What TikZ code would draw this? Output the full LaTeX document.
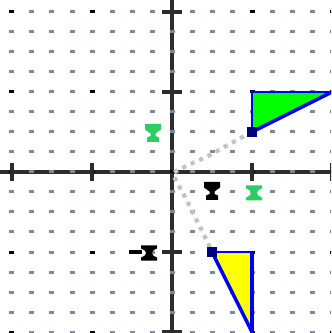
\documentclass[tikz,border=0pt]{standalone}
\usetikzlibrary{calc}
\definecolor{mgreen}{RGB}{46,204,100}
\definecolor{dotc}{RGB}{122,138,155}
\definecolor{axisc}{RGB}{45,45,45}
\definecolor{navyc}{RGB}{0,0,128}
\definecolor{gfill}{RGB}{0,255,0}
\definecolor{bline}{RGB}{0,0,255}
\definecolor{yfill}{RGB}{255,255,0}
\definecolor{curvec}{RGB}{195,195,195}
\tikzset{
  axisline/.style={draw=axisc,line width=3.2pt},
  tickmark/.style={draw=axisc,line width=3.2pt},
  tri/.style={draw=bline,line width=1.6pt,line join=miter},
  hyp/.style={draw=bline,line width=2.4pt},
  trace/.style={draw=curvec,line width=3pt,dash pattern=on 3pt off 3.6pt},
  cupmark/.pic={\fill[#1,scale=0.05] (-8,9) -- (8,9) -- (8,3.5) -- (2.5,-0.5) -- (2.5,-3) -- (6,-4.5) -- (6,-9) -- (-6,-9) -- (-6,-4.5) -- (-2.5,-3) -- (-2.5,-0.5) -- (-8,3.5) -- cycle;},
  hourmark/.pic={\fill[#1,scale=0.05] (-8,7.5) -- (8,7.5) -- (8,4.5) .. controls (4,3) and (3,1.5) .. (3,0) .. controls (3,-1.5) and (4,-3) .. (8,-4.5) -- (8,-7.5) -- (-8,-7.5) -- (-8,-4.5) .. controls (-4,-3) and (-3,-1.5) .. (-3,0) .. controls (-3,1.5) and (-4,3) .. (-8,4.5) -- cycle;}
}
\begin{document}
\begin{tikzpicture}[x=0.5cm,y=0.5cm]
\useasboundingbox (-8.6,-8.05) rectangle (7.95,8.6);
\fill[white] (-8.6,-8.05) rectangle (7.95,8.6);
\clip (-8.6,-8.05) rectangle (7.95,8.6);
% axes
\draw[axisline] (-8.6,0) -- (7.95,0);
\draw[axisline] (0,-8.05) -- (0,8.6);
% grid dots
\foreach \i in {-8,...,8} {
  \foreach \j in {-8,...,8} {
    \pgfmathtruncatemacro{\mi}{mod(abs(\i),4)}
    \pgfmathtruncatemacro{\mj}{mod(abs(\j),4)}
    \ifnum\mi=0 \ifnum\mj=0
      \fill[black] (\i-0.125,\j-0.075) rectangle (\i+0.125,\j+0.075);
    \else
      \fill[dotc] (\i-0.125,\j-0.075) rectangle (\i+0.125,\j+0.075);
    \fi\else
      \fill[dotc] (\i-0.125,\j-0.075) rectangle (\i+0.125,\j+0.075);
    \fi
  }
}
% ticks
\foreach \t in {-8,-4,4,8} {
  \draw[tickmark] (\t,-0.45) -- (\t,0.45);
  \draw[tickmark] (-0.5,\t) -- (0.5,\t);
}
% named points
\coordinate (O) at (0,0);
\coordinate (A) at (4,2);
\coordinate (B) at (2,-4);
% trace curve
\draw[trace] plot[smooth] coordinates {(4,2) (2.7,1.3) (1.85,0.82) (1.1,0.48) (0.4,0.14) (0.08,-0.1) (0.3,-0.6) (0.75,-1.45) (1.55,-3.05) (2,-4)};
% triangles
\fill[gfill] (A) -- (4,4) -- (8,4) -- cycle;
\draw[tri] (A) -- (4,4) -- (8,4);
\draw[hyp] (A) -- (8,4);
\fill[yfill] (B) -- (4,-4) -- (4,-8) -- cycle;
\draw[tri] (B) -- (4,-4);
\draw[hyp] (4,-4) -- (4,-8.2);
\draw[hyp] (B) -- (4,-8);
% squares
\fill[navyc] ($(A)+(-0.27,-0.27)$) rectangle ($(A)+(0.27,0.27)$);
\fill[navyc] ($(B)+(-0.27,-0.27)$) rectangle ($(B)+(0.27,0.27)$);
% markers
\pic at (-0.95,1.95) {cupmark=mgreen};
\pic at (4.1,-1.05) {hourmark=mgreen};
\pic at (2,-0.95) {cupmark=black};
\pic at (-1.15,-4.05) {hourmark=black};
\fill[black] (-2.15,-3.92) rectangle (-1.5,-4.1);
\end{tikzpicture}
\end{document}
